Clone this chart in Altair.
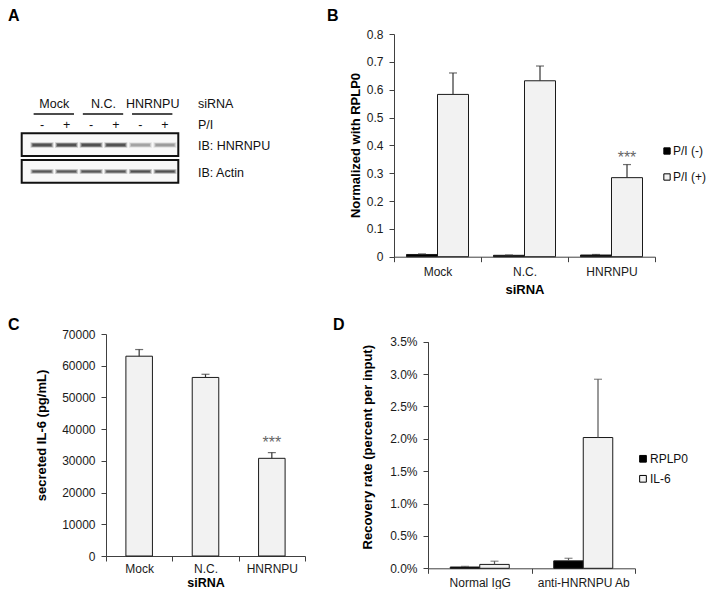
import altair as alt
import pandas as pd

FONT = "Liberation Sans"

# ---------------- data ----------------
# Panel A (western blot schematic)
a_lanes = [0, 1, 2, 3, 4, 5]
a_pi = ["-", "+", "-", "+", "-", "+"]
a_hnrnpu_band = [0.85, 0.85, 0.87, 0.85, 0.35, 0.38]
a_actin_band = [0.80, 0.78, 0.80, 0.80, 0.86, 0.86]
a_groups = ["Mock", "N.C.", "HNRNPU"]
a_group_first_lane = [0, 2, 4]

# Panel B
b_sirna = ["Mock", "N.C.", "HNRNPU"]
b_series = ["P/I (-)", "P/I (+)"]
b_minus = [0.008, 0.005, 0.006]
b_minus_err = [0.002, 0.001, 0.002]
b_plus = [0.583, 0.632, 0.284]
b_plus_err = [0.077, 0.053, 0.047]
b_sig = ["", "", "***"]

# Panel C
c_sirna = ["Mock", "N.C.", "HNRNPU"]
c_il6 = [63000, 56300, 30800]
c_err = [2100, 1000, 1800]
c_sig = ["", "", "***"]

# Panel D
d_ab = ["Normal IgG", "anti-HNRNPU Ab"]
d_genes = ["RPLP0", "IL-6"]
d_rplp0 = [0.0002, 0.00115]
d_rplp0_err = [0.0001, 0.0004]
d_il6 = [0.0006, 0.0202]
d_il6_err = [0.0005, 0.0090]

# ---------------- tables ----------------
b_rows = []
for i, s in enumerate(b_sirna):
    b_rows.append({"siRNA": s, "series": b_series[0], "value": b_minus[i],
                   "upper": b_minus[i] + b_minus_err[i], "sig": ""})
    b_rows.append({"siRNA": s, "series": b_series[1], "value": b_plus[i],
                   "upper": b_plus[i] + b_plus_err[i], "sig": b_sig[i]})
b_df = pd.DataFrame(b_rows)

c_df = pd.DataFrame({"siRNA": c_sirna, "value": c_il6,
                     "upper": [v + e for v, e in zip(c_il6, c_err)], "sig": c_sig})

d_rows = []
for i, ab in enumerate(d_ab):
    d_rows.append({"ab": ab, "gene": d_genes[0], "value": d_rplp0[i],
                   "upper": d_rplp0[i] + d_rplp0_err[i]})
    d_rows.append({"ab": ab, "gene": d_genes[1], "value": d_il6[i],
                   "upper": d_il6[i] + d_il6_err[i]})
d_df = pd.DataFrame(d_rows)

lane_df = pd.DataFrame({"lane": a_lanes, "pi": a_pi,
                        "hn": a_hnrnpu_band, "act": a_actin_band})
grp_df = pd.DataFrame({"group": a_groups, "first": a_group_first_lane})
one = pd.DataFrame({"k": [0]})

W, H = 699, 581
LIGHT = "#f2f2f2"
EDGE = "#1a1a1a"
ERR = "#333333"

# ---------------- Panel A ----------------
lane_scale = alt.Scale(domain=[0, 5], range=[34, 157])
ax_lane = alt.X("lane:Q", scale=lane_scale, axis=None)

boxes = []
for (y1, y2) in [(125.3, 148), (152, 174.7)]:
    boxes.append(alt.Chart(one).mark_rect(fill="#f8f8f8", stroke="#111", strokeWidth=2).encode(
        x=alt.value(13.7), x2=alt.value(170.3), y=alt.value(y1), y2=alt.value(y2)))

base_lane = alt.Chart(lane_df)


def band_layers(field, ycen, thick):
    out = []
    for (size, th, f) in [(23, thick + 3, 0.25), (21, thick + 1.5, 0.4), (19, thick, 0.6)]:
        out.append(base_lane.transform_calculate(o=f"datum.{field}*{f}").mark_tick(
            orient="horizontal", size=size, thickness=th, color="#1a1a1a").encode(
            x=ax_lane, y=alt.value(ycen), opacity=alt.Opacity("o:Q", scale=None, legend=None)))
    return out


hn_bands = band_layers("hn", 137, 2.5)
act_bands = band_layers("act", 163.5, 1.8)
pi_text = base_lane.mark_text(font=FONT, fontSize=12.5, color="#111").encode(
    x=ax_lane, y=alt.value(117), text="pi:N")

grp_base = alt.Chart(grp_df).transform_calculate(
    mid="datum.first + 0.5", x1="datum.first - 0.34", x2="datum.first + 1.3")
grp_text = grp_base.mark_text(font=FONT, fontSize=12.5, color="#111").encode(
    x=alt.X("mid:Q", scale=lane_scale, axis=None),
    y=alt.value(96), text="group:N")
grp_line = grp_base.mark_rule(color="#111", strokeWidth=1.3).encode(
    x=alt.X("x1:Q", scale=lane_scale, axis=None),
    x2="x2:Q", y=alt.value(106))

side_labels = []
for txt, yy in [("siRNA", 96), ("P/I", 117), ("IB: HNRNPU", 138), ("IB: Actin", 165)]:
    side_labels.append(alt.Chart(one).mark_text(font=FONT, fontSize=12.5, align="left",
                                                color="#111").encode(
        x=alt.value(190), y=alt.value(yy), text=alt.value(txt)))

letters = []
for txt, xx, yy in [("A", 0, 0), ("B", 319, 0), ("C", 0, 309), ("D", 325, 309)]:
    letters.append(alt.Chart(one).mark_text(font=FONT, fontSize=16, fontWeight="bold",
                                            align="left", baseline="top", color="black").encode(
        x=alt.value(xx), y=alt.value(yy), text=alt.value(txt)))

panelA = alt.layer(*boxes, *hn_bands, *act_bands, pi_text,
                   grp_text, grp_line, *side_labels)

# ---------------- Panel B ----------------
bx = alt.X("siRNA:N", sort=b_sirna,
           scale=alt.Scale(domain=b_sirna, range=[386, 647], paddingInner=0, paddingOuter=0),
           axis=alt.Axis(orient="bottom", offset=-332.3, tickBand="extent", labelAngle=0,
                         labelPadding=5, title="siRNA", titleY=33, titleBaseline="middle"))
by_scale = alt.Scale(domain=[0, 0.8], range=[248.7, 26], nice=False)
by = alt.Y("value:Q", scale=by_scale,
           axis=alt.Axis(orient="left", offset=-386,
                         values=[0, 0.1, 0.2, 0.3, 0.4, 0.5, 0.6, 0.7, 0.8],
                         labelExpr="datum.value == 0 ? '0' : format(datum.value, '.1f')",
                         labelPadding=6, title="Normalized with RPLP0",
                         titleX=-38.7, titleY=137, titleBaseline="middle", titleAlign="center"))
bxo = alt.XOffset("series:N", scale=alt.Scale(domain=b_series, paddingOuter=0.403, paddingInner=0))
bB = alt.Chart(b_df)
b_bars = bB.mark_bar(stroke=EDGE, strokeWidth=1).encode(
    x=bx, xOffset=bxo, y=by,
    color=alt.Color("series:N", scale=alt.Scale(domain=b_series, range=["#000000", LIGHT]),
                    legend=alt.Legend(title=None, orient="none", legendX=653, legendY=137,
                                      symbolType="square", symbolSize=40,
                                      symbolStrokeColor="black", symbolStrokeWidth=1,
                                      labelFont=FONT, labelFontSize=12, labelColor="#111",
                                      labelOffset=0, rowPadding=14, padding=0)))
b_rule = bB.mark_rule(color=ERR, strokeWidth=1.2).encode(
    x=bx, xOffset=bxo, y=by, y2="upper:Q")
b_cap = bB.mark_tick(orient="horizontal", size=8, thickness=1.2, color=ERR).encode(
    x=bx, xOffset=bxo, y=alt.Y("upper:Q", scale=by_scale))
b_sig_t = bB.mark_text(font=FONT, fontSize=16, color="#666", baseline="alphabetic", dy=-2).encode(
    x=bx, xOffset=bxo, y=alt.Y("upper:Q", scale=by_scale), text="sig:N")
panelB = alt.layer(b_bars, b_rule, b_cap, b_sig_t)

# ---------------- Panel C ----------------
cx = alt.X("siRNA:N", sort=c_sirna,
           scale=alt.Scale(domain=c_sirna, range=[98, 297], paddingInner=0, paddingOuter=0),
           axis=alt.Axis(orient="bottom", offset=-33, tickBand="extent", labelAngle=0,
                         labelPadding=2, title="siRNA", titleY=30.5, titleFontSize=12.5,
                         titleBaseline="alphabetic"))
cy_scale = alt.Scale(domain=[0, 70000], range=[548, 326], nice=False)
cy = alt.Y("value:Q", scale=cy_scale,
           axis=alt.Axis(orient="left", offset=-98,
                         values=[0, 10000, 20000, 30000, 40000, 50000, 60000, 70000],
                         format="d", labelPadding=6, title="secreted IL-6 (pg/mL)",
                         titleX=-65, titleY=427, titleBaseline="middle", titleAlign="center"))
cB = alt.Chart(c_df)
c_bars = cB.mark_bar(fill=LIGHT, stroke=EDGE, strokeWidth=1,
                     width=alt.RelativeBandSize(0.4)).encode(x=cx, y=cy)
c_rule = cB.mark_rule(color=ERR, strokeWidth=1.2).encode(x=cx, y=cy, y2="upper:Q")
c_cap = cB.mark_tick(orient="horizontal", size=8, thickness=1.2, color=ERR).encode(
    x=cx, y=alt.Y("upper:Q", scale=cy_scale))
c_sig_t = cB.mark_text(font=FONT, fontSize=16, color="#666", baseline="alphabetic", dy=-5).encode(
    x=cx, y=alt.Y("upper:Q", scale=cy_scale), text="sig:N")
panelC = alt.layer(c_bars, c_rule, c_cap, c_sig_t)

# ---------------- Panel D ----------------
dx = alt.X("ab:N", sort=d_ab,
           scale=alt.Scale(domain=d_ab, range=[420, 627], paddingInner=0, paddingOuter=0),
           axis=alt.Axis(orient="bottom", offset=-20.7, tickBand="extent", labelAngle=0,
                         labelPadding=4, labelBaseline="top", title=None))
dy_scale = alt.Scale(domain=[0, 0.035], range=[560.3, 333.7], nice=False)
dy = alt.Y("value:Q", scale=dy_scale,
           axis=alt.Axis(orient="left", offset=-420,
                         values=[0, 0.005, 0.01, 0.015, 0.02, 0.025, 0.03, 0.035],
                         format=".1%", labelPadding=6,
                         title="Recovery rate (percent per input)",
                         titleX=-60.3, titleY=438.7, titleBaseline="middle", titleAlign="center"))
dxo = alt.XOffset("gene:N", scale=alt.Scale(domain=d_genes, paddingOuter=0.754, paddingInner=0))
dB = alt.Chart(d_df)
d_bars = dB.mark_bar(stroke=EDGE, strokeWidth=1).encode(
    x=dx, xOffset=dxo, y=dy,
    color=alt.Color("gene:N", scale=alt.Scale(domain=d_genes, range=["#000000", LIGHT]),
                    legend=alt.Legend(title=None, orient="none", legendX=629, legendY=444.8,
                                      symbolType="square", symbolSize=45,
                                      symbolStrokeColor="black", symbolStrokeWidth=1,
                                      labelFont=FONT, labelFontSize=12, labelColor="#111",
                                      labelOffset=1, rowPadding=8, padding=0)))
d_rule = dB.mark_rule(color="#555555", strokeWidth=1.2).encode(
    x=dx, xOffset=dxo, y=dy, y2="upper:Q")
d_cap = dB.mark_tick(orient="horizontal", size=8, thickness=1.2, color="#555555").encode(
    x=dx, xOffset=dxo, y=alt.Y("upper:Q", scale=dy_scale))
panelD = alt.layer(d_bars, d_rule, d_cap)

chart = alt.layer(panelA, panelB, panelC, panelD, *letters).resolve_scale(
    x="independent", y="independent", color="independent", xOffset="independent",
    opacity="independent"
).properties(
    width=W, height=H, padding=0, autosize=alt.AutoSizeParams(type="none")
).configure_view(stroke=None).configure_axis(
    grid=False, domainColor="#404040", tickColor="#404040", domainWidth=1, tickWidth=1,
    tickSize=5, labelFont=FONT, labelFontSize=12, labelColor="#1a1a1a",
    titleFont=FONT, titleFontSize=13, titleFontWeight="bold", titleColor="#000"
)

chart.save("out.html", embed_options={"renderer": "svg", "actions": False})
